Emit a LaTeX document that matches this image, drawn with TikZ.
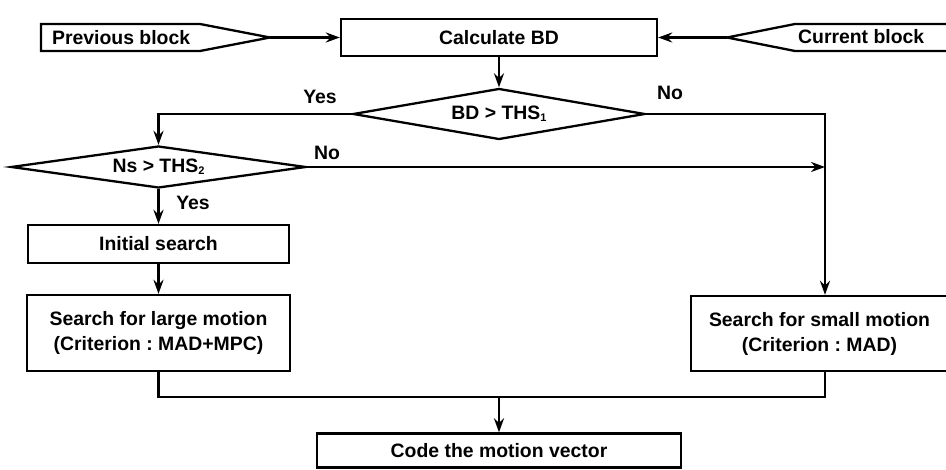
\documentclass[tikz,border=0pt]{standalone}
\usepackage{fontspec}
\setmainfont{Liberation Sans}
\usetikzlibrary{shapes.geometric,arrows.meta}
\newcommand{\sbs}[1]{\raisebox{-0.1em}{\fontsize{11}{11}\selectfont #1}}
\frenchspacing
\begin{document}
\begin{tikzpicture}[x=1pt,y=-1pt,
  line width=2.3pt,
  every node/.style={font=\fontsize{19.4}{25}\selectfont\bfseries, inner sep=0pt},
  arr/.style={-{Stealth[length=14pt,width=10pt]}},
  box/.style={draw, rectangle, align=center},
  dia/.style={draw, diamond, inner sep=0pt}]
\useasboundingbox (0,0) rectangle (946,470);

% input blocks
\draw (41,24) -- (200,24) -- (270,37.5) -- (200,51) -- (41,51) -- cycle;
\coordinate (prevtip) at (270,37.5);
\node[anchor=west] (prevtxt) at (51,37.5) {Previous block};

\draw (960,24) -- (795,24) -- (727,37.5) -- (795,51) -- (960,51);
\coordinate (curtip) at (727,37.5);
\node[anchor=west] (curtxt) at (797,36.5) {Current block};

% process nodes
\node[box, minimum width=316, minimum height=37] (calc) at (499,37.5) {Calculate BD};
\node[dia, minimum width=292, minimum height=51, aspect=5.7] (bd) at (499,114) {BD > THS\sbs{1}};
\node[dia, minimum width=295, minimum height=42, aspect=7] (ns) at (158.5,167) {Ns > THS\sbs{2}};
\node[box, minimum width=261, minimum height=38] (init) at (158.5,244) {Initial search};
\node[box, minimum width=263, minimum height=76] (large) at (158.5,333) {Search for large motion\\(Criterion : MAD+MPC)};
\node[box, minimum width=257, minimum height=75] (small) at (819.5,333.5) {Search for small motion\\(Criterion : MAD)};
\node[box, minimum width=364, minimum height=34] (code) at (499,450.5) {Code the motion vector};

\coordinate (rv) at (825,0);
\coordinate (merge) at (499,397);

% connectors
\draw[arr] (prevtip) -- (calc.west);
\draw[arr] (curtip) -- (calc.east);
\draw[arr] (calc.south) -- (bd.north);
\draw[arr] (bd.west) -| (ns.north);
\draw[arr] (bd.east) -| (rv |- small.north);
\draw[arr] (ns.east) -- (rv |- ns.east);
\draw[arr] (ns.south) -- (init.north);
\draw[arr] (init.south) -- (large.north);
\draw (large.south) -- (large.south |- merge) -- (merge -| rv) -- (rv |- small.south);
\draw[arr] (merge) -- (code.north);

% labels
\node (yes1) at (320,97) {Yes};
\node (no1) at (670,93) {No};
\node (no2) at (327,153) {No};
\node (yes2) at (193,203) {Yes};
\end{tikzpicture}
\end{document}
